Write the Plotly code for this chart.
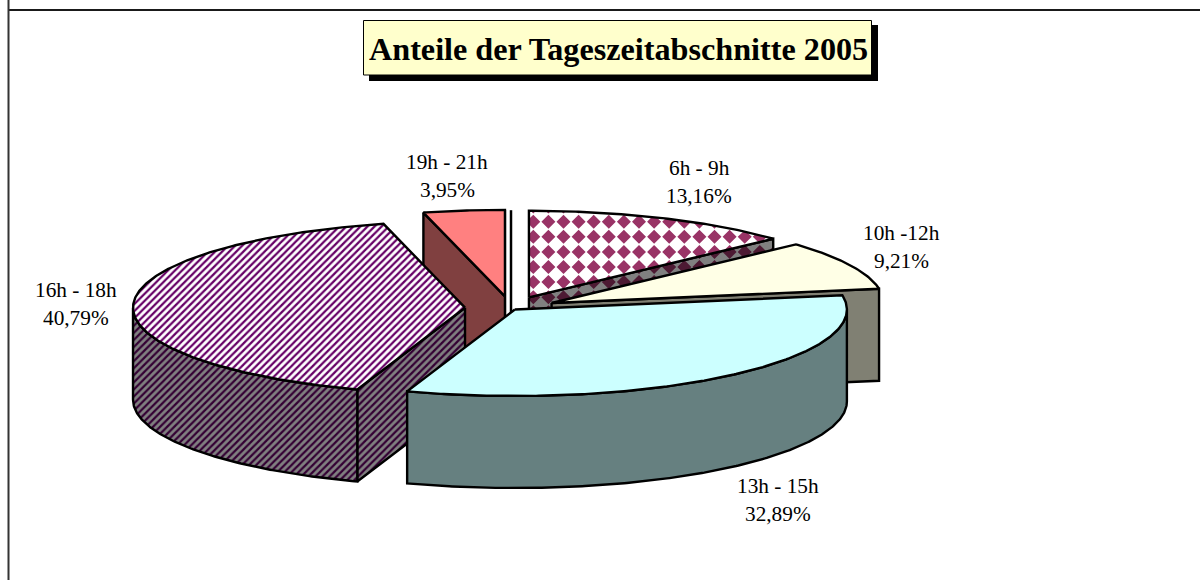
import math
import plotly.graph_objects as go

categories = ["6h - 9h", "10h -12h", "13h - 15h", "16h - 18h", "19h - 21h"]
values = [13.16, 9.21, 32.89, 40.79, 3.95]
explode = [0.1374, 0.1374, 0.02, 0.1374, 0.1374]
top_colors = ["#FFFFFF", "#FFFFE6", "#CCFFFF", "#FFFFFF", "#FF8080"]
wall_colors = ["#808080", "#808073", "#668080", "#808080", "#804040"]
draw_order = [0, 1, 4, 3, 2]
label_centers = [(699, 168), (901, 233), (778, 486), (76, 290), (447, 162)]

CX, CY, RX, RY, DEPTH = 510.6, 308.2, 332, 86.5, 92
LINE = dict(color="black", width=2.4)
top_patterns = {3: dict(shape="/", size=5, solidity=0.45, fgcolor="#660066", bgcolor="#FFFFFF", fillmode="replace")}
wall_patterns = {3: dict(shape="/", size=5, solidity=0.45, fgcolor="#330033", bgcolor="#808080", fillmode="replace")}
diamond_top = {0: "#993366"}
diamond_wall = {0: "#4D1A33"}
DIAMOND_PITCH, DIAMOND_HALF, DIAMOND_X0, DIAMOND_Y0 = 15.1, 7.0, 533.3, 221.7

fig = go.Figure()


def pt(a, ox, oy, r=1.0, dy=0.0):
    t = math.radians(a)
    return ox + RX * r * math.sin(t), oy - RY * r * math.cos(t) + dy


def clip_convex(subject, clip):
    area = sum(clip[i][0] * clip[(i + 1) % len(clip)][1] - clip[(i + 1) % len(clip)][0] * clip[i][1]
               for i in range(len(clip)))
    sign = 1 if area > 0 else -1
    out = subject
    for i in range(len(clip)):
        a, b = clip[i], clip[(i + 1) % len(clip)]
        if a == b:
            continue
        side = lambda p: sign * ((b[0] - a[0]) * (p[1] - a[1]) - (b[1] - a[1]) * (p[0] - a[0]))
        kept = []
        for j in range(len(out)):
            p, q = out[j], out[(j + 1) % len(out)]
            sp, sq = side(p), side(q)
            if sp >= 0:
                kept.append(p)
            if sp * sq < 0:
                u = sp / (sp - sq)
                kept.append((p[0] + u * (q[0] - p[0]), p[1] + u * (q[1] - p[1])))
        out = kept
        if not out:
            break
    return out


def diamonds(points, color):
    xs0 = [p[0] for p in points]
    ys0 = [p[1] for p in points]
    xs, ys = [], []
    ix0 = math.floor((min(xs0) - DIAMOND_X0) / DIAMOND_PITCH) - 1
    ix1 = math.ceil((max(xs0) - DIAMOND_X0) / DIAMOND_PITCH) + 1
    iy0 = math.floor((min(ys0) - DIAMOND_Y0) / DIAMOND_PITCH) - 1
    iy1 = math.ceil((max(ys0) - DIAMOND_Y0) / DIAMOND_PITCH) + 1
    for ix in range(ix0, ix1 + 1):
        for iy in range(iy0, iy1 + 1):
            cx = DIAMOND_X0 + ix * DIAMOND_PITCH
            cy = DIAMOND_Y0 + iy * DIAMOND_PITCH
            d = [(cx - DIAMOND_HALF, cy), (cx, cy - DIAMOND_HALF), (cx + DIAMOND_HALF, cy), (cx, cy + DIAMOND_HALF)]
            c = clip_convex(d, points)
            if len(c) >= 3:
                xs += [p[0] for p in c] + [c[0][0], None]
                ys += [p[1] for p in c] + [c[0][1], None]
    fig.add_trace(go.Scatter(x=xs, y=ys, mode="lines", line=dict(width=0), fill="toself", fillcolor=color,
                             hoverinfo="skip", showlegend=False))


def poly(points, fill, pattern=None, diamond=None):
    xs = [p[0] for p in points] + [points[0][0]]
    ys = [p[1] for p in points] + [points[0][1]]
    kw = dict(fillpattern=pattern) if pattern else {}
    if diamond:
        fig.add_trace(go.Scatter(x=xs, y=ys, mode="lines", line=dict(width=0), fill="toself", fillcolor=fill,
                                 hoverinfo="skip", showlegend=False))
        diamonds(points, diamond)
        fig.add_trace(go.Scatter(x=xs, y=ys, mode="lines", line=LINE, hoverinfo="skip", showlegend=False))
    else:
        fig.add_trace(go.Scatter(x=xs, y=ys, mode="lines", line=LINE, fill="toself", fillcolor=fill,
                                 hoverinfo="skip", showlegend=False, **kw))


def arc(a0, a1, ox, oy, dy=0.0):
    n = max(2, int(abs(a1 - a0) * 2))
    return [pt(a0 + (a1 - a0) * i / n, ox, oy, dy=dy) for i in range(n + 1)]


total = sum(values)
angles = [0.0]
for v in values:
    angles.append(angles[-1] + v / total * 360)

# thin zero-width back slice seen between first and last sectors
fig.add_trace(go.Scatter(x=[CX + 0.4, CX + 0.4], y=[CY - 98, CY + 6], mode="lines", line=dict(color="black", width=2.5),
                         hoverinfo="skip", showlegend=False))

for i in draw_order:
    a0, a1 = angles[i], angles[i + 1]
    mid = math.radians((a0 + a1) / 2)
    e = explode[i] * RX
    ox = CX + e * math.sin(mid)
    oy = CY - e * RY / RX * math.cos(mid)
    wp = wall_patterns.get(i)
    wd = diamond_wall.get(i)
    # radial faces turned towards the viewer
    if 0 < a1 % 360 < 180:
        p = pt(a1, ox, oy)
        poly([(ox, oy), p, (p[0], p[1] + DEPTH), (ox, oy + DEPTH)], wall_colors[i], wp, wd)
    if 180 < a0 < 360:
        p = pt(a0, ox, oy)
        poly([(ox, oy), p, (p[0], p[1] + DEPTH), (ox, oy + DEPTH)], wall_colors[i], wp, wd)
    # outer wall where it faces the viewer
    lo, hi = max(a0, 90), min(a1, 270)
    if lo < hi:
        poly(arc(lo, hi, ox, oy) + arc(hi, lo, ox, oy, dy=DEPTH), wall_colors[i], wp, wd)
    poly([(ox, oy)] + arc(a0, a1, ox, oy), top_colors[i], top_patterns.get(i), diamond_top.get(i))

ann = []
for c, v, (x, y) in zip(categories, values, label_centers):
    pct = f"{v:.2f}%".replace(".", ",")
    ann.append(dict(x=x, y=y, text=c, showarrow=False, xanchor="center", yanchor="middle",
                    font=dict(family="Liberation Serif", size=21.3, color="black")))
    ann.append(dict(x=x, y=y + 27.5, text=pct, showarrow=False, xanchor="center", yanchor="middle",
                    font=dict(family="Liberation Serif", size=21.3, color="black")))
ann.append(dict(x=618, y=48.5, text="<b>Anteile der Tageszeitabschnitte 2005</b>", showarrow=False,
                xanchor="center", yanchor="middle", font=dict(family="Liberation Serif", size=32.2, color="black")))

shapes = [
    dict(type="line", x0=8.5, x1=1200, y0=10, y1=10, line=dict(color="#1A1A1A", width=2), layer="below"),
    dict(type="line", x0=8.5, x1=8.5, y0=0, y1=580, line=dict(color="#333333", width=2), layer="below"),
    dict(type="rect", x0=369, x1=878, y0=25, y1=81, fillcolor="black", line=dict(width=0), layer="below"),
    dict(type="rect", x0=363.5, x1=871.5, y0=20.5, y1=75, fillcolor="#FFFFCC", line=dict(color="black", width=1), layer="below"),
]

fig.update_layout(
    width=1200, height=580, margin=dict(l=0, r=0, t=0, b=0), paper_bgcolor="white", plot_bgcolor="white",
    xaxis=dict(range=[0, 1200], visible=False, fixedrange=True),
    yaxis=dict(range=[580, 0], visible=False, fixedrange=True),
    annotations=ann, shapes=shapes, showlegend=False,
)
fig.write_html("out.html", config={"displayModeBar": False},
               post_script="document.body.style.margin='0';document.documentElement.style.overflow='hidden';")
